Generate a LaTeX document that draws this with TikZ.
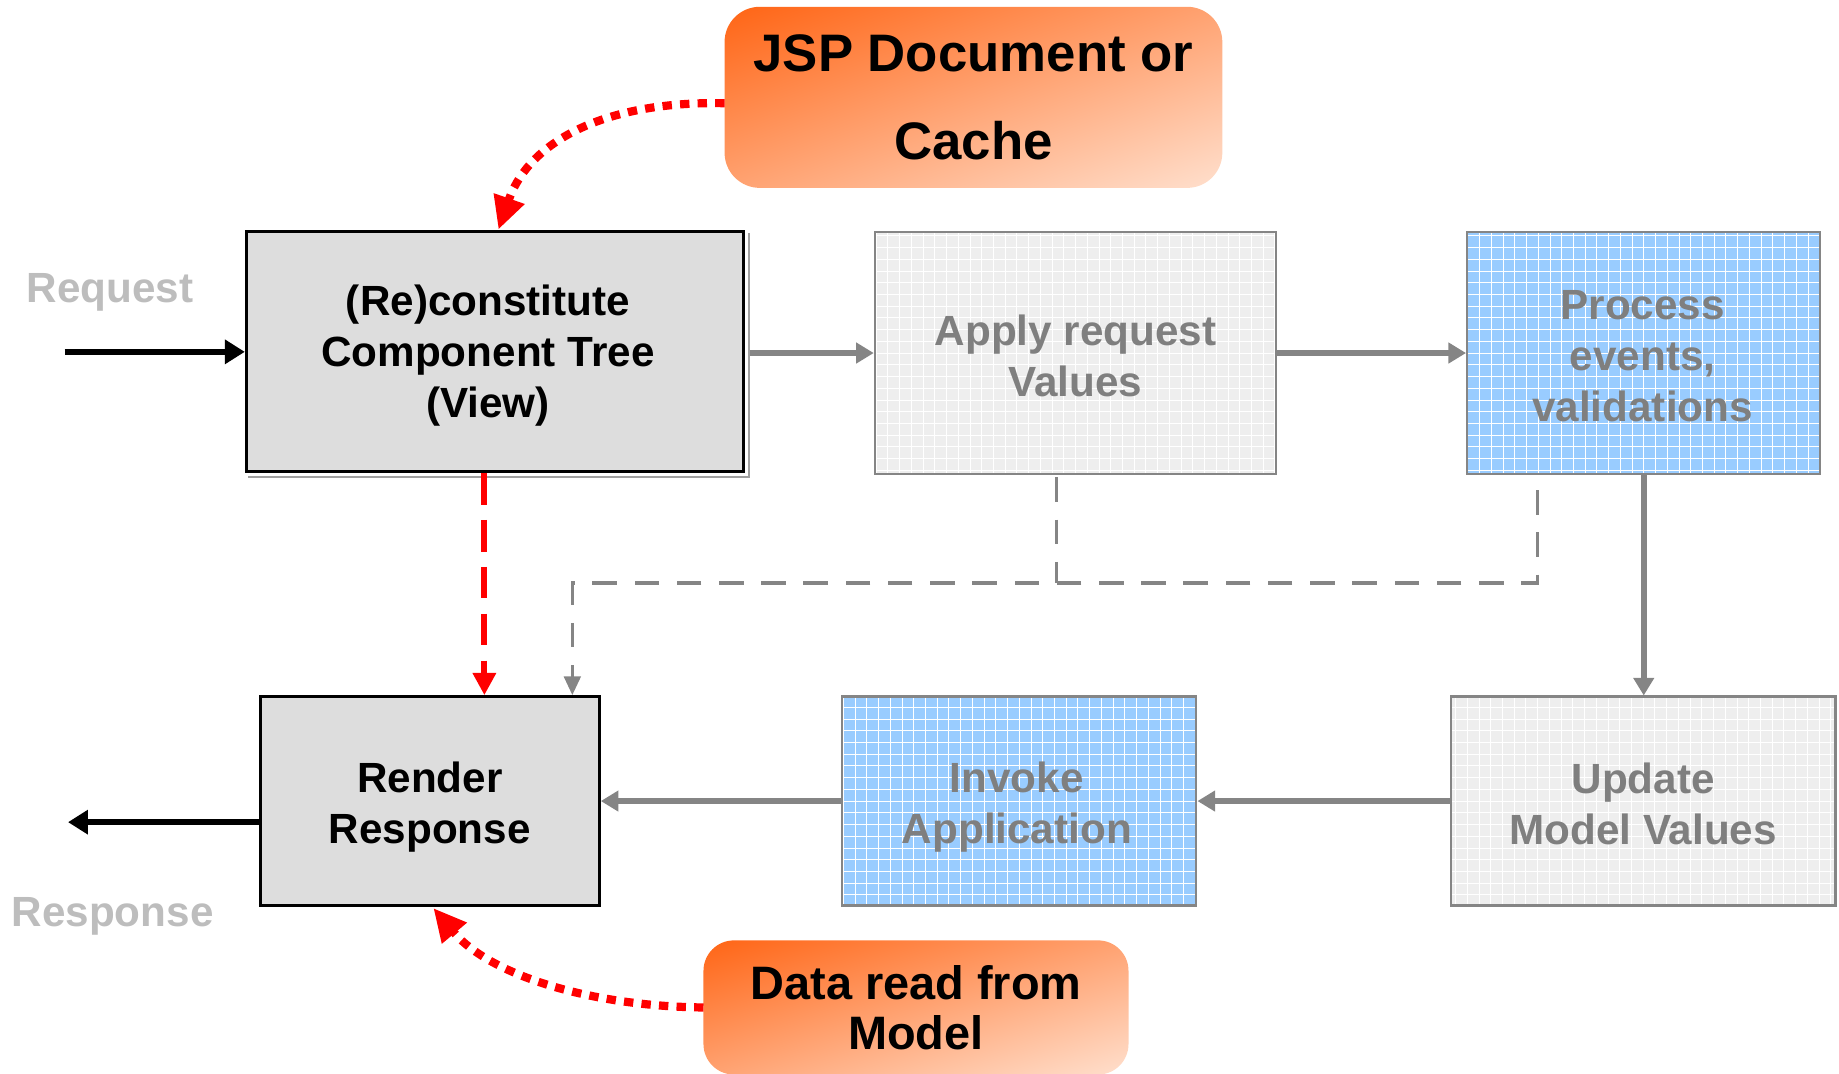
\documentclass[tikz,border=0pt]{standalone}
\usepackage{fontspec}
\setmainfont{Liberation Sans}
\usetikzlibrary{arrows.meta,calc,backgrounds}
\definecolor{boxgray}{HTML}{DDDDDD}
\definecolor{lightbox}{HTML}{EEEEEE}
\definecolor{bluebox}{HTML}{99CCFF}
\definecolor{txtgray}{HTML}{7F7F7F}
\definecolor{lblgray}{HTML}{BDBDBD}
\definecolor{orgA}{HTML}{FF6414}
\definecolor{orgB}{HTML}{FFE0CE}
\definecolor{edgegray}{HTML}{858585}
\definecolor{shadowgray}{HTML}{A0A0A0}
\definecolor{redline}{HTML}{FF0000}
\begin{document}
\begin{tikzpicture}[x=1pt,y=-1pt,
  every node/.style={font=\bfseries\fontsize{36}{43.5}\selectfont, align=center, inner sep=0pt},
  gridfill/.style={path picture={\draw[white, line width=0.7pt, step=10pt] (path picture bounding box.south west) grid (path picture bounding box.north east);}},
  mainbox/.style={draw=black, line width=2.5pt, fill=boxgray},
  fadebox/.style={draw=edgegray, line width=2pt, fill=lightbox, gridfill},
  bluestep/.style={draw=edgegray, line width=2pt, fill=bluebox, gridfill},
  darktext/.style={text=black},
  fadetext/.style={text=txtgray},
  callout/.style={text=black},
  orangeshade/.style={top color=orgA, bottom color=orgB},
  lbl/.style={text=lblgray},
  blackarrow/.style={draw=black, line width=5pt, -{Triangle[length=17pt,width=20pt]}},
  grayarrow/.style={draw=edgegray, line width=5pt, -{Triangle[length=15pt,width=17pt]}},
  reddash/.style={draw=redline, line width=5pt, dash pattern=on 27pt off 13pt, -{Triangle[length=19pt,width=19pt]}},
  reddot/.style={draw=redline, line width=7pt, dash pattern=on 8pt off 7pt, -{Triangle[length=28pt,width=26pt]}},
  graydash/.style={draw=edgegray, line width=3pt, dash pattern=on 21pt off 15pt},
]
\useasboundingbox (0,0) rectangle (1568,915);

% callouts
\node[callout, minimum width=424, minimum height=154, font=\bfseries\fontsize{45}{75}\selectfont] (J) at (830,83) {JSP Document or\\Cache};
\node[callout, minimum width=362, minimum height=114, font=\bfseries\fontsize{40}{43}\selectfont] (M) at (781,859) {Data read from\\Model};
\begin{scope}[on background layer]
  \begin{scope}
    \clip[rounded corners=30pt] (J.south west) rectangle (J.north east);
    \shade[orangeshade, transform canvas={shift={(J.center)}, rotate=20}] (-300,-146) rectangle (300,146);
  \end{scope}
  \begin{scope}
    \clip[rounded corners=26pt] (M.south west) rectangle (M.north east);
    \shade[orangeshade, transform canvas={shift={(M.center)}, rotate=17.5}] (-260,-110) rectangle (260,110);
  \end{scope}
\end{scope}

% steps (boxes)
\node[mainbox, minimum width=424, minimum height=205] (A) at (422,299.5) {};
\draw[shadowgray, line width=1.5pt] ($(A.north east)+(3.5,3)$) -- ($(A.south east)+(3.5,3.5)$) -- ($(A.south west)+(3,3.5)$);
\node[fadebox, minimum width=342, minimum height=206] (B) at (917,301) {};
\node[bluestep, minimum width=301, minimum height=206] (C) at (1401.5,301) {};
\node[fadebox, minimum width=328, minimum height=178] (D) at (1401,683) {};
\node[bluestep, minimum width=302, minimum height=178] (E) at (869,683) {};
\node[mainbox, minimum width=289, minimum height=178] (F) at (366.5,683) {};

% step texts
\node[darktext] (At) at ($(A.center)+(-6,4)$) {(Re)constitute\\Component Tree\\(View)};
\node[fadetext] (Bt) at ($(B.center)+(0,2.5)$) {Apply request\\Values};
\node[fadetext] (Ct) at ($(C.center)+(-1,2.5)$) {Process\\events,\\validations};
\node[fadetext] (Dt) at ($(D.center)+(0,2.5)$) {Update\\Model Values};
\node[fadetext] (Et) at ($(E.center)+(-2,5)$) {Invoke\\Application};
\node[darktext] (Ft) at ($(F.center)+(0,5)$) {Render\\Response};

% labels
\node[lbl] (req) at (94,249) {Request};
\node[lbl] (resp) at (96,781) {Response};

% request / response arrows
\coordinate (reqstart) at (55,300);
\draw[blackarrow] (reqstart) -- (reqstart -| A.west);
\coordinate (respend) at (58,701);
\draw[blackarrow] (F.west |- respend) -- (respend);

% main flow
\draw[grayarrow] ($(A.east)+(4,1.5)$) -- (B.west);
\draw[grayarrow] (B.east) -- (C.west);
\draw[grayarrow] (C.south) -- (C.south |- D.north);
\draw[grayarrow] (D.west) -- (E.east);
\draw[grayarrow] (E.west) -- (F.east);

% red dashed shortcut
\coordinate (af) at ($(A.south)+(-9,0)$);
\draw[reddash] (af) -- (af |- F.north);

% gray dashed shortcuts
\coordinate (bdrop) at ($(B.south)+(-16,2)$);
\coordinate (jB) at (901,497);
\coordinate (cdrop) at ($(C.south)+(-90.5,13)$);
\coordinate (jC) at (1311,497);
\coordinate (jL) at (488,497);
\draw[graydash] (bdrop) -- (jB);
\draw[graydash, -{Triangle[length=16pt,width=14pt]}] (cdrop) -- (jC) -- (jL) -- (jL |- F.north);

% red dotted curves
\coordinate (Atop) at ($(A.north)+(3,0)$);
\draw[reddot] ($(J.west)+(0,5)$) .. controls (520,86) and (452,118) .. (Atop);
\coordinate (Fbot) at ($(F.south)+(3,1)$);
\draw[reddot] (M.west) .. controls (505,858) and (418,832) .. (Fbot);
\end{tikzpicture}
\end{document}
